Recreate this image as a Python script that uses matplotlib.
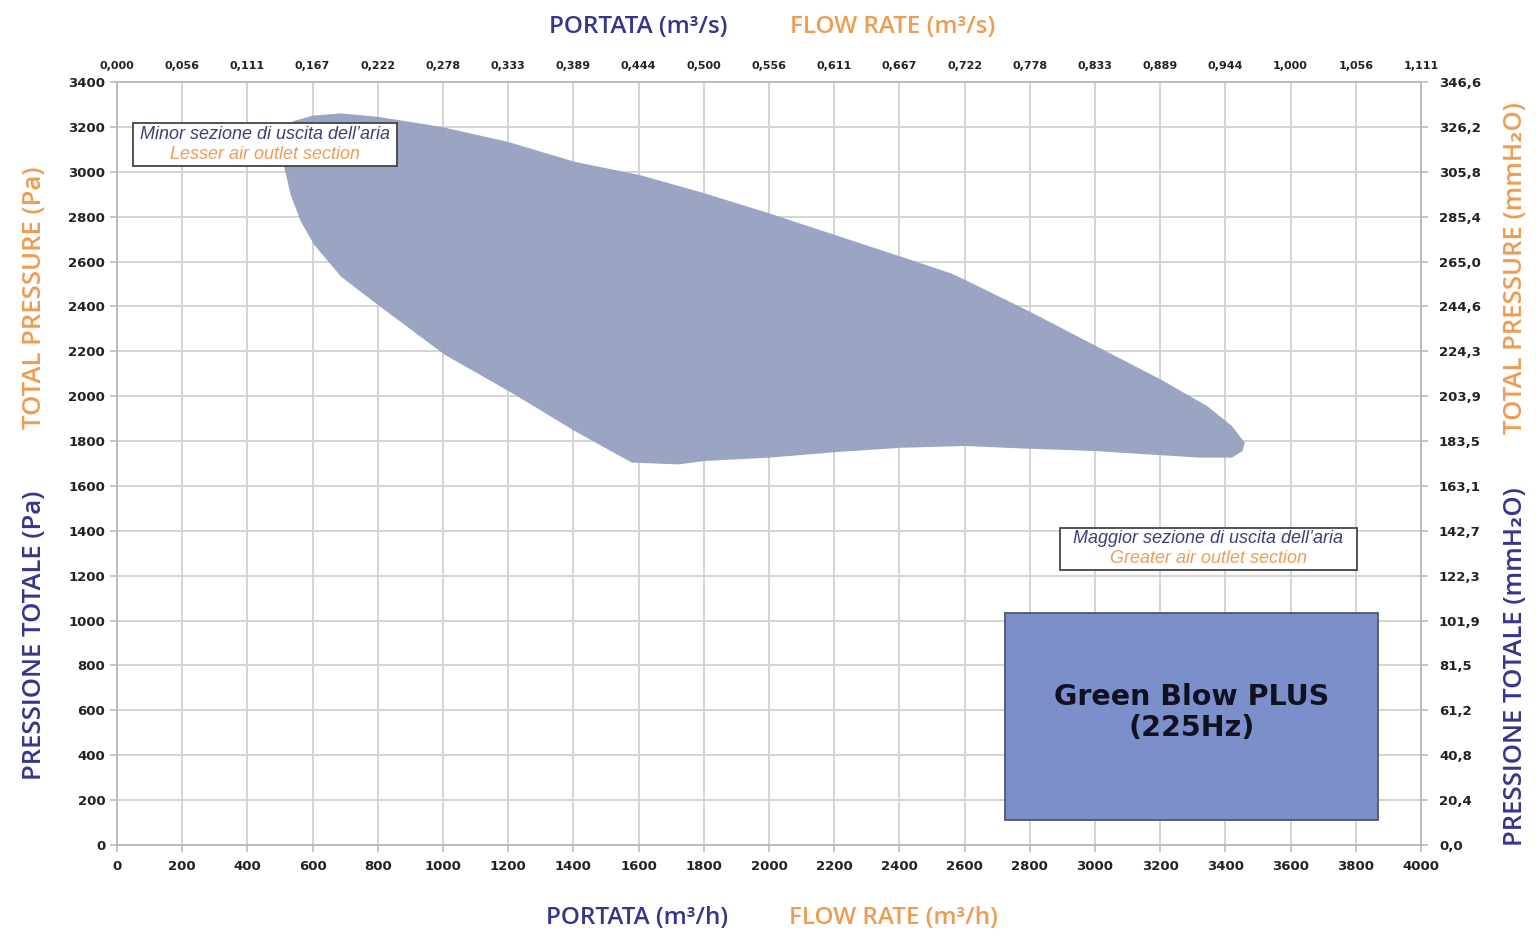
import matplotlib
matplotlib.use("Agg")
import matplotlib.pyplot as plt
from matplotlib.patches import Rectangle

# Operating envelope of the fan: flow rate (m³/h) vs total pressure (Pa)
envelope_flow = [509, 540, 600, 687, 800, 995, 1200, 1405, 1605, 1800, 2000,
                 2404, 2557, 2612, 2809, 3005, 3202, 3344, 3420, 3459, 3453,
                 3420, 3322, 3213, 2994, 2776, 2601, 2404, 2208, 2000, 1800,
                 1723, 1579, 1405, 1220, 1005, 800, 687, 605, 564, 533, 513]
envelope_pressure = [3160, 3225, 3250, 3260, 3245, 3200, 3133, 3044, 2985, 2905,
                     2815, 2622, 2548, 2511, 2370, 2222, 2074, 1956, 1867, 1793,
                     1756, 1726, 1726, 1736, 1756, 1767, 1778, 1770, 1751, 1726,
                     1711, 1696, 1704, 1844, 2007, 2185, 2407, 2533, 2674, 2778,
                     2896, 3022]

flow_ticks = list(range(0, 4001, 200))
pressure_ticks = list(range(0, 3401, 200))
flow_m3s_labels = ["0,000", "0,056", "0,111", "0,167", "0,222", "0,278", "0,333",
                   "0,389", "0,444", "0,500", "0,556", "0,611", "0,667", "0,722",
                   "0,778", "0,833", "0,889", "0,944", "1,000", "1,056", "1,111"]
pressure_mmh2o_labels = ["0,0", "20,4", "40,8", "61,2", "81,5", "101,9", "122,3",
                         "142,7", "163,1", "183,5", "203,9", "224,3", "244,6",
                         "265,0", "285,4", "305,8", "326,2", "346,6"]

NAVY = "#34358c"
ORANGE = "#ee9c52"
FILL = "#95a0c0"
GRID = "#d4d4d4"
TICKC = "#222222"

W, H = 1536, 936
fig = plt.figure(figsize=(W / 100, H / 100), dpi=100)
fig.patch.set_facecolor("white")

left, right, top, bottom = 117, 1421, 82, 845
ax = fig.add_axes([left / W, 1 - bottom / H, (right - left) / W, (bottom - top) / H])
ax.set_xlim(0, 4000)
ax.set_ylim(0, 3400)
ax.set_xticks(flow_ticks)
ax.set_yticks(pressure_ticks)
ax.grid(True, color=GRID, linewidth=1.4)
ax.set_axisbelow(True)
for s in ax.spines.values():
    s.set_color("#bbbbbb")
    s.set_linewidth(1.4)
ax.tick_params(axis="both", colors="#bbbbbb", length=5, width=1.2,
               labelcolor=TICKC, labelsize=9.5)
for lab in ax.get_xticklabels() + ax.get_yticklabels():
    lab.set_fontweight("bold")
ax.tick_params(axis="x", pad=6)

ax.fill(envelope_flow, envelope_pressure, color=FILL, alpha=0.95, lw=0, zorder=2)

# Secondary scales: m³/s on top, mmH2O on the right
axt = ax.twiny()
axt.set_xlim(ax.get_xlim())
axt.set_xticks(flow_ticks)
axt.set_xticklabels(flow_m3s_labels, fontsize=8, fontweight="bold", color=TICKC)
axt.tick_params(axis="x", colors="#bbbbbb", length=0, pad=8, labelcolor=TICKC)
axr = ax.twinx()
axr.set_ylim(ax.get_ylim())
axr.set_yticks(pressure_ticks)
axr.set_yticklabels(pressure_mmh2o_labels, fontsize=9.5, fontweight="bold", color=TICKC)
axr.tick_params(axis="y", colors="#bbbbbb", length=5, width=1.2, pad=8, labelcolor=TICKC)
for a in (axt, axr):
    for s in a.spines.values():
        s.set_visible(False)

# Annotation boxes
note = dict(ha="center", va="center", fontsize=13, style="italic",
            family="Liberation Sans", zorder=5)
ax.add_patch(Rectangle((49, 3026), 810, 191, facecolor="white",
                       edgecolor="#444444", lw=1.3, zorder=4))
ax.text(454, 3168, "Minor sezione di uscita dell’aria", color="#3b3f78", **note)
ax.text(454, 3077, "Lesser air outlet section", color=ORANGE, **note)

ax.add_patch(Rectangle((2893, 1225), 911, 188, facecolor="white",
                       edgecolor="#444444", lw=1.3, zorder=4))
ax.text(3348, 1368, "Maggior sezione di uscita dell’aria", color="#3b3f78", **note)
ax.text(3348, 1277, "Greater air outlet section", color=ORANGE, **note)

ax.add_patch(Rectangle((2724, 111), 1144, 923, facecolor="#7b8fca",
                       edgecolor="#555566", lw=1.3, zorder=4))
ax.text(3296, 590, "Green Blow PLUS\n(225Hz)", ha="center", va="center",
        fontsize=20.5, family="DejaVu Sans", fontweight="bold", color="#111122",
        linespacing=1.12, zorder=5)

# Axis titles
fam = ["Open Sans", "DejaVu Sans"]
hkw = dict(fontsize=17.5, family=fam, fontweight="semibold", ha="center", va="center")
vkw = dict(fontsize=18.5, family=fam, fontweight="semibold", ha="center", va="center",
           rotation=90)
fig.text(638 / W, 1 - 27 / H, "PORTATA (m³/s)", color=NAVY, **hkw)
fig.text(893 / W, 1 - 27 / H, "FLOW RATE (m³/s)", color=ORANGE, **hkw)
fig.text(637 / W, 1 - 918 / H, "PORTATA (m³/h)", color=NAVY, **hkw)
fig.text(893 / W, 1 - 918 / H, "FLOW RATE (m³/h)", color=ORANGE, **hkw)
fig.text(35 / W, 1 - 298 / H, "TOTAL PRESSURE (Pa)", color=ORANGE, **vkw)
fig.text(35 / W, 1 - 635 / H, "PRESSIONE TOTALE (Pa)", color=NAVY, **vkw)
fig.text(1515 / W, 1 - 268 / H, "TOTAL PRESSURE (mmH₂O)", color=ORANGE, **vkw)
fig.text(1515 / W, 1 - 667 / H, "PRESSIONE TOTALE (mmH₂O)", color=NAVY, **vkw)

fig.savefig("out.png", dpi=100, facecolor="white")
